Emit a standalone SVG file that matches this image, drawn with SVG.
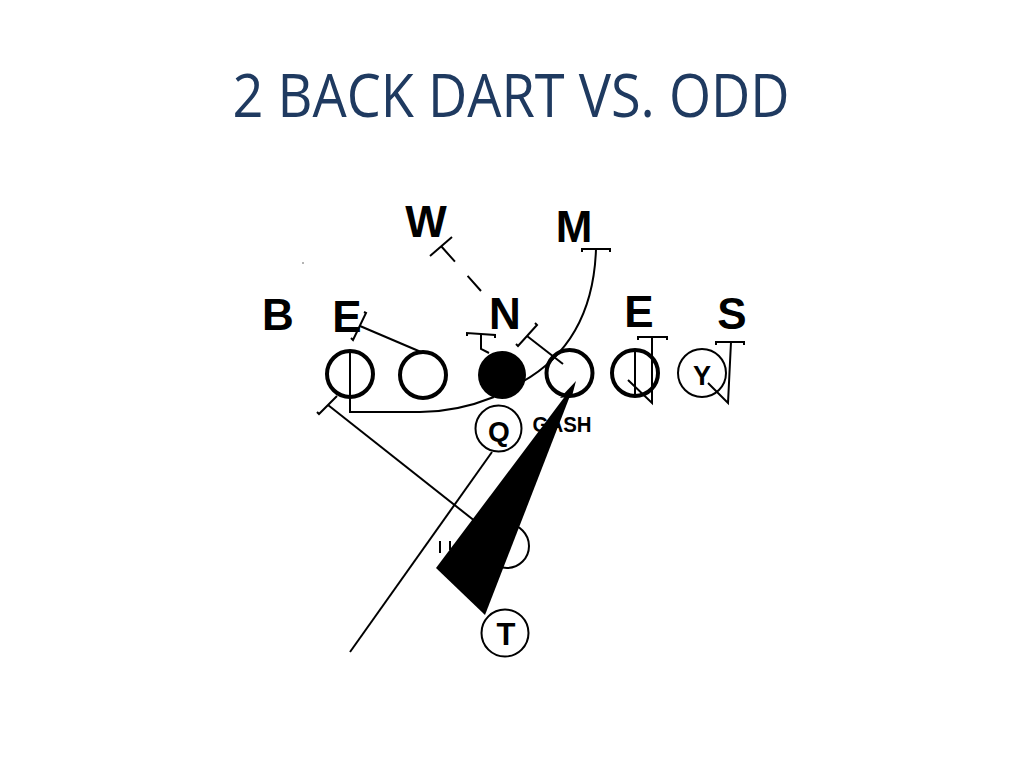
<svg xmlns="http://www.w3.org/2000/svg" width="1024" height="768" viewBox="0 0 1024 768">
<style>
.lbl{font-family:"Liberation Sans",Arial,sans-serif;font-weight:bold;fill:#000;text-anchor:middle}
.big{font-size:44px}
.thick{fill:none;stroke:#000;stroke-width:4}
.thin{fill:none;stroke:#000;stroke-width:2}
.ln{fill:none;stroke:#000;stroke-width:2;stroke-linecap:butt;stroke-linejoin:miter}
.title{font-family:"Open Sans","Noto Sans",sans-serif;font-size:60px;fill:#1F3A60;text-anchor:middle}
</style>
<rect width="1024" height="768" fill="#fff"/>
<text class="title" x="511" y="117" textLength="557" lengthAdjust="spacingAndGlyphs">2 BACK DART VS. ODD</text>
<circle cx="303" cy="263" r="0.8" fill="#555"/>

<g id="B"><text class="lbl big" x="278" y="330">B</text></g>
<g id="E-left"><text class="lbl big" x="347" y="332">E</text></g>
<g id="W"><text class="lbl big" x="426" y="237">W</text></g>
<g id="N"><text class="lbl big" x="505" y="329">N</text></g>
<g id="M"><text class="lbl big" x="574" y="242">M</text></g>
<g id="E-right"><text class="lbl big" x="639" y="327">E</text></g>
<g id="S"><text class="lbl big" x="732" y="329">S</text></g>

<g id="lineman-1"><circle class="thick" cx="350" cy="374" r="23"/></g>
<g id="lineman-2"><circle class="thick" cx="423" cy="375" r="23"/></g>
<g id="center"><circle cx="502" cy="375" r="24" fill="#000"/></g>
<g id="lineman-4"><circle class="thick" cx="569.5" cy="373" r="23"/></g>
<g id="lineman-5"><circle class="thick" cx="635" cy="373" r="23"/></g>
<g id="Y"><circle class="thin" cx="702" cy="373" r="24"/><text class="lbl" x="702" y="385" font-size="27">Y</text></g>
<g id="Q"><circle class="thin" cx="498.5" cy="428.5" r="23"/><text class="lbl" x="499" y="441" font-size="28">Q</text></g>
<g id="back"><circle class="thin" cx="507" cy="546" r="22"/></g>
<g id="T"><circle class="thin" cx="505" cy="633" r="23.5"/><text class="lbl" x="506" y="645" font-size="31">T</text></g>
<g id="gash"><text class="lbl" x="562" y="432" font-size="22" textLength="59" lengthAdjust="spacingAndGlyphs">GASH</text></g>

<g id="connectors">
<!-- W -->
<path class="ln" d="M430,256 L452,237"/>
<path class="ln" d="M441,246 L481,291" stroke-dasharray="21 19"/>
<!-- N -->
<path class="ln" d="M467,336 L467,333 L495,335 L495,338"/>
<path class="ln" d="M481,334 L481,349 L489,353"/>
<!-- lineman 4 to N side -->
<path class="ln" d="M516,344 L518,346 L537,325 L535,323"/>
<path class="ln" d="M527,336 L563,364"/>
<!-- M -->
<path class="ln" d="M582,252 L582,249 L610,249 L610,252"/>
<path class="ln" d="M596,249 C594,310 570,355 522,382"/>
<!-- E left -->
<path class="ln" d="M351,338 L353,340 L366,313 L364,312"/>
<path class="ln" d="M360,326 L421,352"/>
<!-- lineman 1 -->
<path class="ln" d="M350,351 V412 H420 C450,412 474,405 494,397"/>
<path class="ln" d="M317,412 L319,414 L337,396"/>
<path class="ln" d="M328,405 L490,533"/>
<!-- E right -->
<path class="ln" d="M638,340 V337 H667 V340"/>
<path class="ln" d="M652,337 L652,403 L628,380"/>
<path class="ln" d="M635,351 V395"/>
<!-- S -->
<path class="ln" d="M716,345 V342 H744 V345"/>
<path class="ln" d="M731,342 L728,403 L708,383"/>
<!-- Q -->
<path class="ln" d="M492,452 L350,652"/>
<path class="ln" d="M440,541 V553 M450,541 V550"/>
<!-- dart -->
<polygon points="436,568 485,615 575,383" fill="#000"/>
<polygon points="576,381 560,398 572,396" fill="#000"/>
</g>
</svg>
